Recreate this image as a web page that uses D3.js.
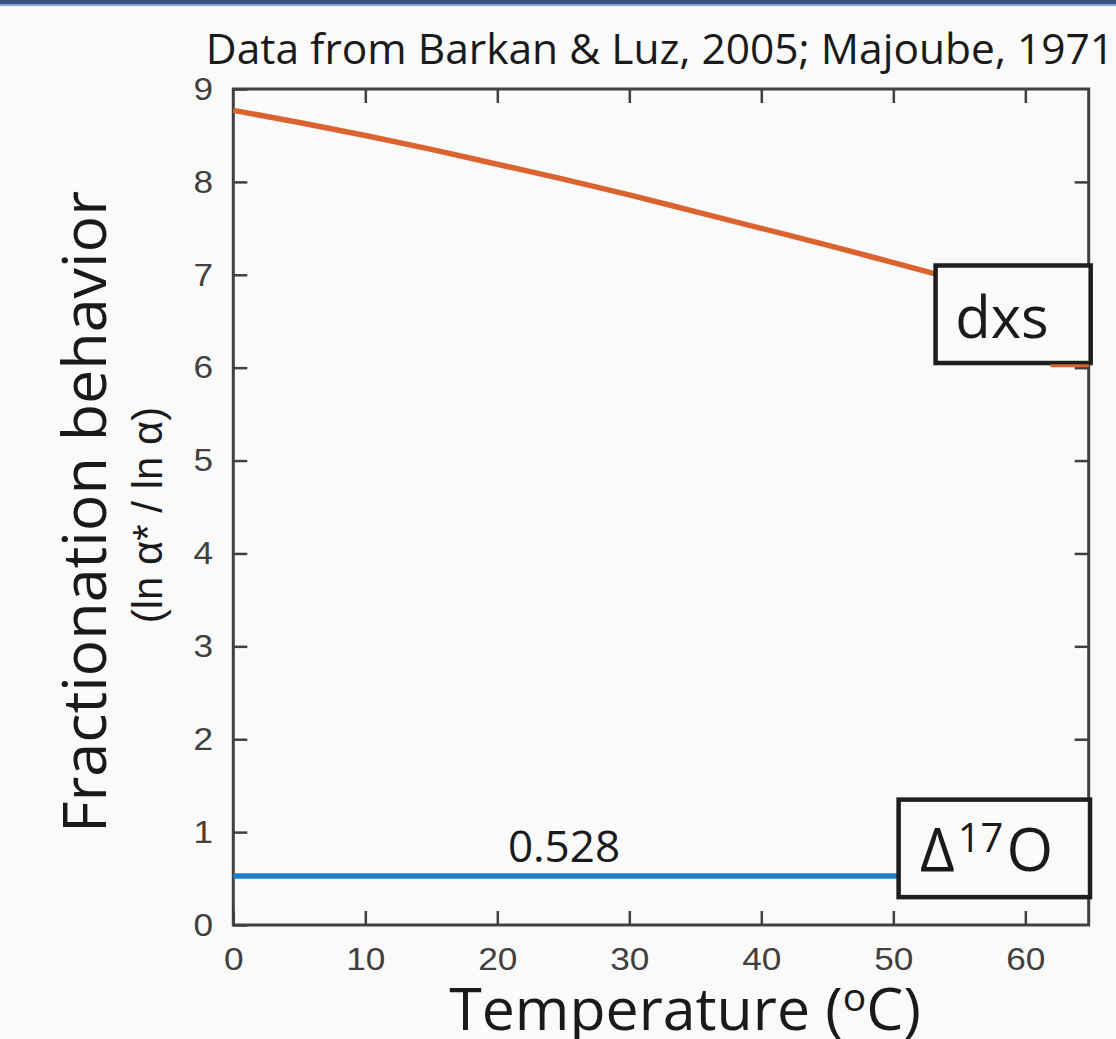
<!DOCTYPE html>
<html lang="en">
<head>
<meta charset="UTF-8">
<title>Fractionation behavior</title>
<style>
    body { margin: 0; background: #fafafa; }
    #grafico { display: block; }
    .titulo { font-family: "Open Sans", sans-serif; fill: #1a1a1a; }
</style>
<script src="https://cdn.jsdelivr.net/npm/d3@7"></script>
</head>
<body>
<svg id="grafico" width="1116" height="1039"></svg>
<script>
// temperature (oC) and the two curves
const temps = [0, 5, 10, 15, 20, 25, 30, 35, 40, 45, 50, 55, 60];
const dxsValues = [8.77, 8.64, 8.50, 8.35, 8.19, 8.03, 7.86, 7.68, 7.50, 7.32, 7.13, 6.94, 6.75];
const d17Temps = [0, 60];
const d17Values = [0.528, 0.528];
// small orange stub seen at the right edge
const stubTemps = [61.9, 64.8];
const stubValues = [6.02, 6.02];

const xTicks = [0, 10, 20, 30, 40, 50, 60];
const yTicks = [0, 1, 2, 3, 4, 5, 6, 7, 8, 9];

const svg = d3.select('#grafico');

// top banner
svg.append('rect').attr('x', 0).attr('y', 0).attr('width', 1116).attr('height', 4).attr('fill', '#3c5282');
svg.append('rect').attr('x', 0).attr('y', 4).attr('width', 1116).attr('height', 2).attr('fill', '#8aa6d4');

const x = d3.scaleLinear().domain([0, 64.8]).range([233.3, 1088.7]);
const y = d3.scaleLinear().domain([0, 9]).range([925, 89]);

const estilo = g => {
    g.select('.domain').remove();
    g.selectAll('.tick line').attr('stroke', '#404040').attr('stroke-width', 2.5);
    g.selectAll('.tick text')
        .style('font-family', '"Liberation Sans", Arial, sans-serif')
        .style('font-size', '32px')
        .attr('transform', 'scale(1.1,1)')
        .attr('fill', '#404040');
};

// axes, ticks pointing inward
svg.append('g').attr('transform', 'translate(0,925)')
    .call(d3.axisBottom(x).tickValues(xTicks).tickSizeInner(-14).tickSizeOuter(0).tickPadding(22))
    .call(estilo);
svg.append('g').attr('transform', 'translate(233.3,0)')
    .call(d3.axisLeft(y).tickValues(yTicks).tickSizeInner(-14).tickSizeOuter(0).tickPadding(18.5))
    .call(estilo);
svg.append('g').attr('transform', 'translate(0,89)')
    .call(d3.axisTop(x).tickValues(xTicks.slice(1)).tickSizeInner(-14).tickSizeOuter(0).tickFormat(''))
    .call(estilo);
svg.append('g').attr('transform', 'translate(1088.7,0)')
    .call(d3.axisRight(y).tickValues(yTicks.slice(1, -1)).tickSizeInner(-14).tickSizeOuter(0).tickFormat(''))
    .call(estilo);

svg.append('rect')
    .attr('x', x(0)).attr('y', y(9))
    .attr('width', x(64.8) - x(0)).attr('height', y(0) - y(9))
    .attr('fill', 'none').attr('stroke', '#404040').attr('stroke-width', 3);

const linha = (xs, ys) => d3.line().x((d, i) => x(xs[i])).y(d => y(d)).curve(d3.curveMonotoneX)(ys);

svg.append('path').attr('d', linha(temps, dxsValues))
    .attr('fill', 'none').attr('stroke', '#db6330').attr('stroke-width', 5.5);
svg.append('path').attr('d', linha(d17Temps, d17Values))
    .attr('fill', 'none').attr('stroke', '#1d7fc6').attr('stroke-width', 5.5);

// label boxes
function caixa(t0, t1, v0, v1) {
    svg.append('rect')
        .attr('x', x(t0)).attr('y', y(v0))
        .attr('width', x(t1) - x(t0)).attr('height', y(v1) - y(v0))
        .attr('fill', '#fafafa').attr('stroke', '#1e1e1e').attr('stroke-width', 4.5);
}
caixa(53.2, 64.95, 7.1, 6.05);
caixa(50.4, 64.9, 1.35, 0.30);

svg.append('path').attr('d', linha(stubTemps, stubValues))
    .attr('fill', 'none').attr('stroke', '#db6330').attr('stroke-width', 3);

svg.append('text').classed('titulo', true)
    .attr('x', 1002).attr('y', 338).attr('text-anchor', 'middle')
    .style('font-size', '58px').text('dxs');

const d17 = svg.append('text').classed('titulo', true)
    .attr('x', 920).attr('y', 871).style('font-size', '60px');
d17.append('tspan').text('Δ');
d17.append('tspan').attr('dy', -19).attr('dx', 3).style('font-size', '40px').text('17');
d17.append('tspan').attr('dy', 19).attr('dx', 3).text('O');

svg.append('text').classed('titulo', true)
    .attr('x', 564).attr('y', 862).attr('text-anchor', 'middle')
    .style('font-size', '44px').text('0.528');

// titles
svg.append('text').classed('titulo', true)
    .attr('x', 660).attr('y', 64).attr('text-anchor', 'middle')
    .style('font-size', '42.5px').text('Data from Barkan & Luz, 2005; Majoube, 1971');

const tx = svg.append('text').classed('titulo', true)
    .attr('x', 685).attr('y', 1030).attr('text-anchor', 'middle')
    .style('font-size', '59px');
tx.append('tspan').text('Temperature (');
tx.append('tspan').attr('dy', -19).style('font-size', '39px').text('o');
tx.append('tspan').attr('dy', 19).text('C)');

svg.append('text').classed('titulo', true)
    .attr('transform', 'translate(106,512) rotate(-90)')
    .attr('text-anchor', 'middle')
    .style('font-size', '61px').text('Fractionation behavior');

svg.append('text')
    .attr('transform', 'translate(162,515) rotate(-90)')
    .attr('text-anchor', 'middle')
    .style('font-family', '"Liberation Sans", Arial, sans-serif')
    .style('font-size', '42px').style('fill', '#1a1a1a')
    .text('(ln α* / ln α)');
</script>
</body>
</html>
